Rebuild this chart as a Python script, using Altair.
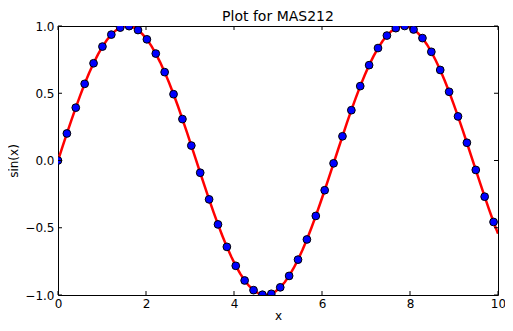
import altair as alt
import pandas as pd

# Curve samples (x from 0 to 10, 100 samples)
line_x = [0.000, 0.101, 0.202, 0.303, 0.404, 0.505, 0.606, 0.707, 0.808, 0.909,
          1.010, 1.111, 1.212, 1.313, 1.414, 1.515, 1.616, 1.717, 1.818, 1.919,
          2.020, 2.121, 2.222, 2.323, 2.424, 2.525, 2.626, 2.727, 2.828, 2.929,
          3.030, 3.131, 3.232, 3.333, 3.434, 3.535, 3.636, 3.737, 3.838, 3.939,
          4.040, 4.141, 4.242, 4.343, 4.444, 4.545, 4.646, 4.747, 4.848, 4.949,
          5.051, 5.152, 5.253, 5.354, 5.455, 5.556, 5.657, 5.758, 5.859, 5.960,
          6.061, 6.162, 6.263, 6.364, 6.465, 6.566, 6.667, 6.768, 6.869, 6.970,
          7.071, 7.172, 7.273, 7.374, 7.475, 7.576, 7.677, 7.778, 7.879, 7.980,
          8.081, 8.182, 8.283, 8.384, 8.485, 8.586, 8.687, 8.788, 8.889, 8.990,
          9.091, 9.192, 9.293, 9.394, 9.495, 9.596, 9.697, 9.798, 9.899, 10.000]
line_y = [0.000, 0.101, 0.201, 0.298, 0.393, 0.484, 0.570, 0.650, 0.723, 0.789,
          0.847, 0.896, 0.936, 0.967, 0.988, 0.999, 0.999, 0.989, 0.970, 0.940,
          0.901, 0.852, 0.795, 0.730, 0.657, 0.578, 0.493, 0.403, 0.308, 0.211,
          0.111, 0.010, -0.091, -0.191, -0.289, -0.384, -0.475, -0.561, -0.642, -0.716,
          -0.783, -0.841, -0.892, -0.933, -0.964, -0.986, -0.998, -0.999, -0.991, -0.972,
          -0.943, -0.905, -0.858, -0.801, -0.737, -0.665, -0.587, -0.502, -0.412, -0.318,
          -0.221, -0.121, -0.021, 0.080, 0.180, 0.279, 0.374, 0.466, 0.553, 0.634,
          0.709, 0.776, 0.836, 0.887, 0.929, 0.962, 0.984, 0.997, 1.000, 0.992,
          0.974, 0.947, 0.910, 0.863, 0.808, 0.744, 0.673, 0.595, 0.511, 0.421,
          0.328, 0.231, 0.132, 0.031, -0.070, -0.170, -0.269, -0.365, -0.457, -0.544]

x_ticks = [0, 2, 4, 6, 8, 10]
y_ticks = [-1.0, -0.5, 0.0, 0.5, 1.0]

W, H = 440, 269
TICK = 4

line_df = pd.DataFrame({"x": line_x, "y": line_y})
dots_df = line_df.iloc[::2].reset_index(drop=True)
xt_df = pd.DataFrame({"t": x_ticks})
yt_df = pd.DataFrame({"t": y_ticks})

xscale = alt.Scale(domain=[0, 10], nice=False, zero=False)
yscale = alt.Scale(domain=[-1, 1], nice=False, zero=False)

xaxis = alt.Axis(values=x_ticks, format="d", title="x", grid=False, ticks=False,
                 domain=False, labelPadding=3, titlePadding=1, labelFlush=False)
yaxis = alt.Axis(values=y_ticks, format=".1f", title="sin(x)", grid=False, ticks=False,
                 domain=False, labelPadding=4, titlePadding=4, labelFlush=False)

line = alt.Chart(line_df).mark_line(color="#ff0000", strokeWidth=2.5, clip=True).encode(
    x=alt.X("x:Q", scale=xscale, axis=xaxis),
    y=alt.Y("y:Q", scale=yscale, axis=yaxis),
)

dots = alt.Chart(dots_df).mark_point(
    filled=True, fill="#0000ff", stroke="#000000", strokeWidth=1, size=60,
    opacity=1, clip=True,
).encode(
    x=alt.X("x:Q", scale=xscale),
    y=alt.Y("y:Q", scale=yscale),
)

xt_bottom = alt.Chart(xt_df).mark_rule(color="black", strokeWidth=1).encode(
    x=alt.X("t:Q", scale=xscale), y=alt.value(H), y2=alt.value(H - TICK))
xt_top = alt.Chart(xt_df).mark_rule(color="black", strokeWidth=1).encode(
    x=alt.X("t:Q", scale=xscale), y=alt.value(0), y2=alt.value(TICK))
yt_left = alt.Chart(yt_df).mark_rule(color="black", strokeWidth=1).encode(
    y=alt.Y("t:Q", scale=yscale), x=alt.value(0), x2=alt.value(TICK))
yt_right = alt.Chart(yt_df).mark_rule(color="black", strokeWidth=1).encode(
    y=alt.Y("t:Q", scale=yscale), x=alt.value(W), x2=alt.value(W - TICK))

chart = alt.layer(line, dots, xt_bottom, xt_top, yt_left, yt_right).properties(
    width=W, height=H,
    title=alt.TitleParams("Plot for MAS212", fontSize=14, font="DejaVu Sans",
                          fontWeight="normal", color="black", offset=4, anchor="middle",
                          frame="group", dy=8),
    autosize=alt.AutoSizeParams(type="none"),
    padding={"left": 50, "top": 18, "right": 7, "bottom": 28},
).configure_view(
    stroke="black", strokeWidth=1
).configure_axis(
    labelFont="DejaVu Sans", titleFont="DejaVu Sans", labelFontSize=12, titleFontSize=12,
    labelColor="black", titleColor="black", titleFontWeight="normal",
)

chart.save("out.html", embed_options={"renderer": "svg", "actions": False})
